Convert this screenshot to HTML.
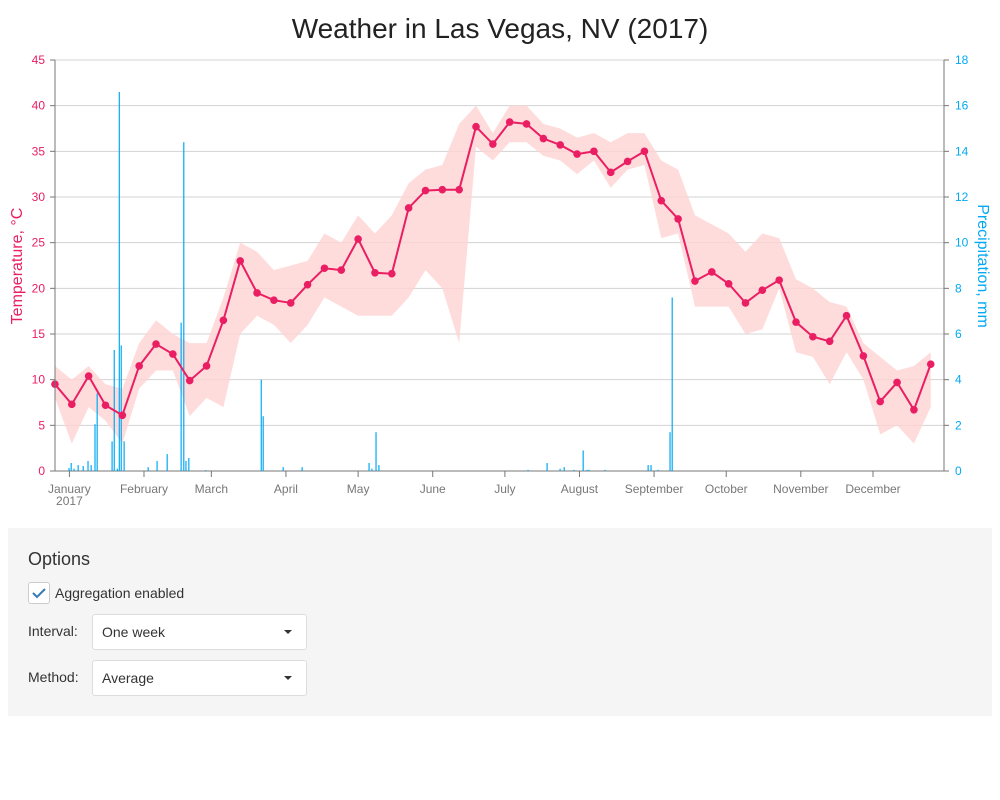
<!DOCTYPE html>
<html><head><meta charset="utf-8"><style>
body{margin:0;width:1000px;height:800px;background:#fff;font-family:"Liberation Sans",sans-serif;overflow:hidden;position:relative}
#opts{position:absolute;left:8px;top:528px;width:984px;height:188px;background:#f5f5f5}
.lbl{position:absolute;font-size:14px;color:#333}
.sel{position:absolute;left:84px;width:215px;height:36px;background:#fff;border:1px solid #ddd;border-radius:3px;box-sizing:border-box}
.sel span{position:absolute;left:9px;top:9px;font-size:14px;color:#333}
.sel i{position:absolute;right:14px;top:15px;width:0;height:0;border-left:4px solid transparent;border-right:4px solid transparent;border-top:4px solid #333}
</style></head><body>
<svg id="chart" width="1000" height="520" style="position:absolute;left:0;top:0" font-family="Liberation Sans, sans-serif">
<text x="500" y="38" text-anchor="middle" font-size="28" fill="#222">Weather in Las Vegas, NV (2017)</text>
<g id="grid"></g><g id="band"></g><g id="bars"></g><g id="line"></g><g id="axes"></g>
<text transform="translate(22,266) rotate(-90)" text-anchor="middle" font-size="16" fill="#e91e63">Temperature, °C</text>
<text transform="translate(978,266) rotate(90)" text-anchor="middle" font-size="16" fill="#03a9f4">Precipitation, mm</text>
</svg>
<div id="opts">
<div class="lbl" style="left:20px;top:21px;font-size:18px">Options</div>
<div style="position:absolute;left:20px;top:54px;width:22px;height:22px;background:#fff;border:1px solid #ccc;border-radius:3px;box-sizing:border-box">
<svg width="20" height="20"><path d="M4 10 L8 14 L16 6" stroke="#337ab7" stroke-width="2" fill="none"/></svg></div>
<div class="lbl" style="left:47px;top:57px">Aggregation enabled</div>
<div class="lbl" style="left:20px;top:95px">Interval:</div>
<div class="sel" style="top:86px"><span>One week</span><i></i></div>
<div class="lbl" style="left:20px;top:141px">Method:</div>
<div class="sel" style="top:132px"><span>Average</span><i></i></div>
</div>
<script>
const tempAvg=[9.5,7.3,10.4,7.2,6.1,11.5,13.9,12.8,9.9,11.5,16.5,23.0,19.5,18.7,18.4,20.4,22.2,22.0,25.4,21.7,21.6,28.8,30.7,30.8,30.8,37.7,35.8,38.2,38.0,36.4,35.7,34.7,35.0,32.7,33.9,35.0,29.6,27.6,20.8,21.8,20.5,18.4,19.8,20.9,16.3,14.7,14.2,17.0,12.6,7.6,9.7,6.7,11.7];
const tempMax=[11.5,10,11.5,9.5,9,14,16.5,15,14,14,19,25,24,22,22.5,23,26,25,28,26,28,31.5,33,33.5,38,40,37,40,40,38,37.5,36.5,37,36,37,37,34,33,28,27,26,24,26,25.5,21,20,18.5,18,14,12.5,11,11.5,13];
const tempMin=[8,3,7,5.5,3,9,11,11,6,8,7,15,17,16,14,16,19,18,17,17,17,19,22,20,14,35.5,34,36,36,34.5,34,32.5,34,31,33,33.5,25.5,26,18,18,18,15,15.5,20,13,12.5,9.5,13,10,4,5,3,7];
const precipDay=[-0.2,0.7,1.9,3.6,5.7,7.7,9.0,10.6,11.5,17.7,18.6,19.9,20.7,21.5,22.7,32.7,36.4,40.6,46.4,47.5,48.4,49.6,56.6,79.7,80.5,88.8,96.7,124.5,125.7,127.4,128.6,190.6,198.5,203.9,205.6,209.7,213.5,215.1,215.9,222.6,240.5,241.7,244.6,249.6,250.5];
const precipMm=[0.13,0.35,0.1,0.26,0.22,0.44,0.26,2.05,3.4,1.3,5.3,0.1,16.6,5.5,1.3,0.17,0.44,0.74,6.5,14.4,0.44,0.57,0.04,4.0,2.4,0.17,0.17,0.35,0.1,1.7,0.26,0.05,0.35,0.1,0.17,0.05,0.9,0.05,0.05,0.05,0.26,0.26,0.05,1.7,7.6];
const monthNames=["January","February","March","April","May","June","July","August","September","October","November","December"];
const monthStart=[0,31,59,90,120,151,181,212,243,273,304,334];
const tempTicks=[0,5,10,15,20,25,30,35,40,45];
const precipTicks=[0,2,4,6,8,10,12,14,16,18];
const NS="http://www.w3.org/2000/svg";
const L=55,R=944,T=60,B=471;
const xDay=d=>69.4+2.406*d;
const yT=v=>B-(v/45)*(B-T);
const yP=v=>B-(v/18)*(B-T);
function mk(tag,attrs,parent,txt){const e=document.createElementNS(NS,tag);for(const k in attrs)e.setAttribute(k,attrs[k]);if(txt!==undefined)e.textContent=txt;document.getElementById(parent).appendChild(e);return e;}
tempTicks.forEach((t,i)=>{
 const g=mk('line',{x1:L,x2:R,y1:yT(t),y2:yT(t),stroke:i==0?'#777':'#d3d3d3','stroke-width':1},'grid');
 
 
 const a=mk('text',{x:45,y:yT(t)+4,'text-anchor':'end','font-size':12,fill:'#e91e63'},'axes',String(t));
 
 
 mk('line',{x1:50,x2:55,y1:yT(t),y2:yT(t),stroke:'#777'},'axes');
});
precipTicks.forEach(t=>{
 const a=mk('text',{x:955,y:yP(t)+4,'font-size':12,fill:'#03a9f4'},'axes',String(t));
 
 
 mk('line',{x1:944,x2:949,y1:yP(t),y2:yP(t),stroke:'#777'},'axes');
});
mk('line',{x1:L,x2:L,y1:T,y2:B,stroke:'#777'},'axes');
mk('line',{x1:R,x2:R,y1:T,y2:B,stroke:'#777'},'axes');
monthNames.forEach((m,i)=>{
 const x=xDay(monthStart[i]);
 mk('line',{x1:x,x2:x,y1:B,y2:B+6,stroke:'#777'},'axes');
 const t=mk('text',{x:x,y:493,'text-anchor':'middle','font-size':12,fill:'#777'},'axes',m);
 
 
});
const yr=mk('text',{x:xDay(0),y:505,'text-anchor':'middle','font-size':12,fill:'#777'},'axes','2017');


const wx=i=>xDay(-6+7*i);
let bp=tempMax.map((v,i)=>wx(i)+','+yT(v)).join(' ')+' '+tempMin.map((v,i)=>wx(i)+','+yT(v)).reverse().join(' ');
const band=mk('polygon',{points:bp,fill:'#ffd3d3',opacity:0.8},'band');


precipDay.forEach((d,i)=>{
 const r=mk('rect',{x:xDay(d)-0.5,y:yP(precipMm[i]),width:1.2,height:B-yP(precipMm[i]),fill:'#03a9f4'},'bars');
 
 
});
const pl=mk('polyline',{points:tempAvg.map((v,i)=>wx(i)+','+yT(v)).join(' '),fill:'none',stroke:'#e91e63','stroke-width':2},'line');


tempAvg.forEach((v,i)=>{
 const c=mk('circle',{cx:wx(i),cy:yT(v),r:3.8,fill:'#e91e63'},'line');
 
 
});
</script>
</body></html>
